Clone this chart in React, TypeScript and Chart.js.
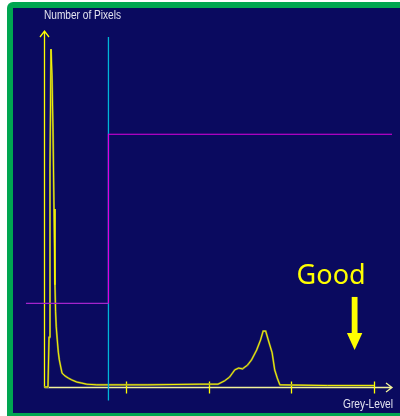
import React, { useEffect, useRef } from "react";
import { Chart, registerables } from "chart.js";

Chart.register(...registerables);

// Histogram of grey levels (grey level -> number of pixels, arbitrary units 0..1000)
const greyLevels = [
  0, 3.1, 3.9, 4.65, 5.43, 6.2, 6.98, 7.76, 8.5, 9.0, 9.5, 10.3, 11.1, 11.9, 13, 14, 16.3, 18.9,
  21.5, 25.4, 29.2, 33.1, 40.9, 80, 121, 135, 140, 144, 148, 151, 154, 158, 161, 165, 168, 170,
  172, 174, 177, 179, 181, 183, 220, 256,
];
const pixelCounts = [
  0, 0, 140, 615, 949, 874, 722, 500, 287, 211, 169, 132, 98, 76, 56, 39, 31, 25,
  20, 14, 11, 8, 6, 6, 8, 8, 17, 28, 48, 53, 51, 62, 76, 104, 132, 157,
  157, 132, 96, 48, 25, 6, 4, 4,
];

// Threshold (cyan marker) and the magenta classification step
const thresholdLevel = 50;
const thresholdSpan = [-38, 983];
const lowerStepLevels = [-14, 50];
const lowerStepValues = [235, 235];
const upperStepLevels = [50, 50, 270];
const upperStepValues = [235, 710, 710];

const xTicks = [64, 128, 192, 256];
const xMax = 270;
const yMax = 1000;

// Annotation "Good" with a down arrow (data coordinates)
const goodLabel = "Good";
const goodAt = { level: 196, value: 289 };
const arrowAt = { level: 241, top: 253, headBase: 152, tip: 104 };

const yAxisTitle = "Number of Pixels";
const xAxisTitle = "Grey-Level";

const NAVY = "#0a0a5f";
const GREEN = "#00a651";
const YELLOW = "#ffff00";

const pts = (xs: number[], ys: number[]) => xs.map((x, i) => ({ x, y: ys[i] }));

const framePlugin = {
  id: "frame",
  beforeDraw(chart: any) {
    const ctx = chart.ctx;
    ctx.save();
    ctx.fillStyle = "#ffffff";
    ctx.fillRect(0, 0, chart.width, chart.height);
    ctx.fillStyle = GREEN;
    ctx.beginPath();
    ctx.roundRect(7, 2, chart.width + 10, chart.height + 10, 6);
    ctx.fill();
    ctx.fillStyle = NAVY;
    ctx.fillRect(13, 8, chart.width - 13, 413 - 8);
    ctx.restore();
  },
  beforeDatasetsDraw(chart: any) {
    const ctx = chart.ctx;
    const xs = chart.scales.x;
    const ys = chart.scales.y;
    const x0 = Math.round(xs.getPixelForValue(0)) + 0.5;
    const y0 = Math.round(ys.getPixelForValue(0)) + 0.5;
    const yTop = ys.getPixelForValue(yMax);
    const xEnd = xs.getPixelForValue(xMax);
    ctx.save();
    ctx.lineWidth = 1.3;
    ctx.strokeStyle = YELLOW;
    ctx.beginPath();
    ctx.moveTo(x0, y0);
    ctx.lineTo(x0, yTop);
    ctx.moveTo(x0 - 4.5, yTop + 6);
    ctx.lineTo(x0, yTop);
    ctx.lineTo(x0 + 4.5, yTop + 6);
    ctx.stroke();
    ctx.strokeStyle = "#f2f29a";
    ctx.beginPath();
    ctx.moveTo(x0, y0);
    ctx.lineTo(xEnd, y0);
    ctx.moveTo(xEnd - 6, y0 - 4.5);
    ctx.lineTo(xEnd, y0);
    ctx.lineTo(xEnd - 6, y0 + 4.5);
    ctx.stroke();
    ctx.strokeStyle = YELLOW;
    ctx.beginPath();
    for (const t of xTicks) {
      const px = Math.round(xs.getPixelForValue(t)) + 0.5;
      ctx.moveTo(px, y0 - 6);
      ctx.lineTo(px, y0 + 6);
    }
    ctx.stroke();
    ctx.restore();
  },
  afterDatasetsDraw(chart: any) {
    const ctx = chart.ctx;
    const xs = chart.scales.x;
    const ys = chart.scales.y;
    ctx.save();
    ctx.fillStyle = "#e4e4f0";
    ctx.textBaseline = "alphabetic";
    ctx.font = "12px 'Liberation Sans', Arial, sans-serif";
    ctx.fillText(yAxisTitle, 44, 19, 77);
    ctx.font = "12px 'Liberation Sans', Arial, sans-serif";
    ctx.fillText(xAxisTitle, 343, 408, 50);

    ctx.fillStyle = YELLOW;
    ctx.font = "28px 'Noto Sans', 'Open Sans', sans-serif";
    ctx.fillText(goodLabel, xs.getPixelForValue(goodAt.level), ys.getPixelForValue(goodAt.value), 69);

    const ax = xs.getPixelForValue(arrowAt.level);
    const aTop = ys.getPixelForValue(arrowAt.top);
    const aBase = ys.getPixelForValue(arrowAt.headBase);
    const aTip = ys.getPixelForValue(arrowAt.tip);
    ctx.fillRect(ax - 2.9, aTop, 5.8, aBase - aTop + 0.5);
    ctx.beginPath();
    ctx.moveTo(ax - 7.7, aBase);
    ctx.lineTo(ax + 7.7, aBase);
    ctx.lineTo(ax, aTip);
    ctx.closePath();
    ctx.fill();
    ctx.restore();
  },
};

export default function App() {
  const ref = useRef<HTMLCanvasElement | null>(null);
  useEffect(() => {
    if (!ref.current) return;
    const histogram = pts(greyLevels, pixelCounts);
    const chart = new Chart(ref.current, {
      type: "scatter",
      data: {
        datasets: [
          {
            data: pts(lowerStepLevels, lowerStepValues),
            showLine: true,
            borderColor: "#a424cc",
            borderWidth: 1.2,
            pointRadius: 0,
            clip: false,
          } as any,
          {
            data: pts(upperStepLevels, upperStepValues),
            showLine: true,
            borderColor: "#e000e0",
            borderWidth: 1.2,
            pointRadius: 0,
            clip: false,
          } as any,
          {
            data: thresholdSpan.map((v) => ({ x: thresholdLevel, y: v })),
            showLine: true,
            borderColor: "#00b4d8",
            borderWidth: 1.3,
            pointRadius: 0,
            clip: false,
          } as any,
          {
            data: histogram,
            showLine: true,
            borderColor: YELLOW,
            borderWidth: 0.9,
            pointRadius: 0,
            tension: 0,
            clip: false,
          } as any,
          {
            data: histogram,
            showLine: true,
            borderColor: "#7d7d3a",
            borderWidth: 2,
            pointRadius: 0,
            tension: 0,
            clip: false,
          } as any,
        ],
      },
      options: {
        animation: false,
        responsive: false,
        devicePixelRatio: 1,
        layout: { padding: { left: 44, top: 31, right: 8, bottom: 29 } },
        plugins: { legend: { display: false }, tooltip: { enabled: false } },
        scales: {
          x: { type: "linear", min: 0, max: xMax, display: false },
          y: { type: "linear", min: 0, max: yMax, display: false },
        },
      },
      plugins: [framePlugin],
    });
    return () => chart.destroy();
  }, []);
  return (
    <div style={{ position: "fixed", left: 0, top: 0, width: 400, height: 416 }}>
      <canvas ref={ref} width={400} height={416} />
    </div>
  );
}
